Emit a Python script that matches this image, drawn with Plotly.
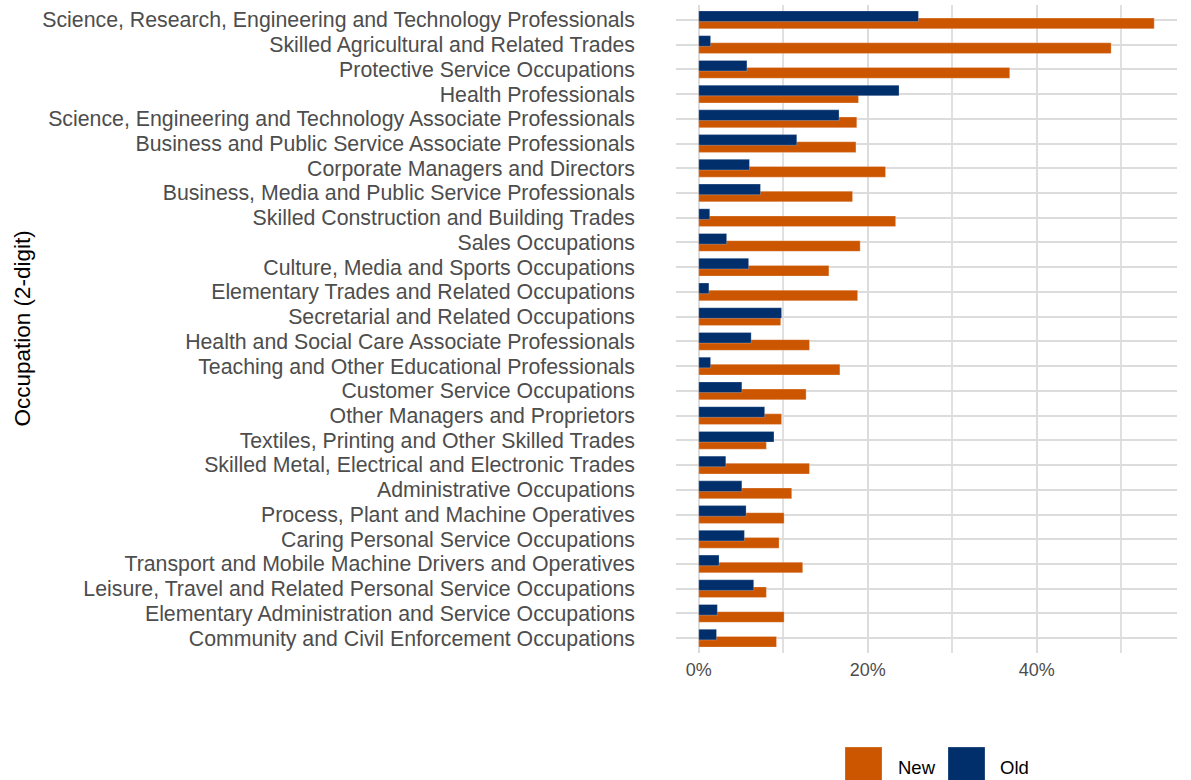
import plotly.graph_objects as go

categories = [
    "Science, Research, Engineering and Technology Professionals",
    "Skilled Agricultural and Related Trades",
    "Protective Service Occupations",
    "Health Professionals",
    "Science, Engineering and Technology Associate Professionals",
    "Business and Public Service Associate Professionals",
    "Corporate Managers and Directors",
    "Business, Media and Public Service Professionals",
    "Skilled Construction and Building Trades",
    "Sales Occupations",
    "Culture, Media and Sports Occupations",
    "Elementary Trades and Related Occupations",
    "Secretarial and Related Occupations",
    "Health and Social Care Associate Professionals",
    "Teaching and Other Educational Professionals",
    "Customer Service Occupations",
    "Other Managers and Proprietors",
    "Textiles, Printing and Other Skilled Trades",
    "Skilled Metal, Electrical and Electronic Trades",
    "Administrative Occupations",
    "Process, Plant and Machine Operatives",
    "Caring Personal Service Occupations",
    "Transport and Mobile Machine Drivers and Operatives",
    "Leisure, Travel and Related Personal Service Occupations",
    "Elementary Administration and Service Occupations",
    "Community and Civil Enforcement Occupations",
]

new_share = [0.539, 0.488, 0.368, 0.189, 0.187, 0.186, 0.221, 0.182, 0.233,
             0.191, 0.154, 0.188, 0.097, 0.131, 0.167, 0.127, 0.098, 0.080,
             0.131, 0.110, 0.101, 0.095, 0.123, 0.080, 0.101, 0.092]
old_share = [0.260, 0.014, 0.057, 0.237, 0.166, 0.116, 0.060, 0.073, 0.013,
             0.033, 0.059, 0.012, 0.098, 0.062, 0.014, 0.051, 0.078, 0.089,
             0.032, 0.051, 0.056, 0.054, 0.024, 0.065, 0.022, 0.021]

x_tick_values = [0, 0.2, 0.4]
x_minor_values = [0.1, 0.3, 0.5]

series_names = ["New", "Old"]
colors = {"New": "#CC5500", "Old": "#002F6C"}

W, H = 1191, 780
L, R, T, B = 676, 1177, 5, 653

fig = go.Figure()
fig.add_trace(go.Bar(
    y=categories, x=new_share, orientation="h", name="New",
    marker=dict(color=colors["New"], line=dict(color="rgba(255,255,255,0.5)", width=0.5)),
    width=0.43, offset=-0.36, showlegend=False,
))
fig.add_trace(go.Bar(
    y=categories, x=old_share, orientation="h", name="Old",
    marker=dict(color=colors["Old"], line=dict(color="rgba(255,255,255,0.5)", width=0.5)),
    width=0.43, offset=-0.07, showlegend=False,
))

xmax = max(new_share)
pad = 0.05 * xmax

fig.update_layout(
    width=W, height=H,
    barmode="overlay",
    plot_bgcolor="white", paper_bgcolor="white",
    margin=dict(l=L, r=W - R, t=T, b=H - B),
    font=dict(family="Liberation Sans, Arial, sans-serif", color="#4D4D4D"),
    xaxis=dict(
        range=[-pad, xmax + pad],
        tickmode="array", tickvals=x_tick_values, tickformat=".0%",
        tickfont=dict(size=18, color="#4D4D4D"),
        showgrid=True, gridcolor="#DCDCDC", gridwidth=1.8,
        minor=dict(tickvals=x_minor_values, showgrid=True, gridcolor="#E0E0E0", gridwidth=1.5),
        zeroline=False, showline=False, ticks="", ticklabelstandoff=4,
    ),
    yaxis=dict(
        type="category",
        categoryorder="array", categoryarray=categories[::-1],
        tickmode="array", tickvals=categories, ticktext=categories,
        range=[-0.6, len(categories) - 0.4],
        tickfont=dict(size=21.3, color="#4D4D4D"),
        showgrid=True, gridcolor="#DCDCDC", gridwidth=1.8,
        zeroline=False, showline=False, ticks="", ticklabelstandoff=40,
    ),
)

# axis title
fig.add_annotation(
    text="Occupation (2-digit)", textangle=-90,
    xref="paper", yref="paper",
    x=(22 - L) / (R - L), y=(B - 328.5) / (B - T),
    showarrow=False, font=dict(size=22.5, color="black"),
    xanchor="center", yanchor="middle",
)

# legend (custom large keys)
key_y0 = (B - 784) / (B - T)
key_y1 = (B - 747) / (B - T)
for name, x0px, tx in [("New", 845, 896), ("Old", 948, 998)]:
    fig.add_shape(
        type="rect", xref="paper", yref="paper",
        x0=(x0px - L) / (R - L), x1=(x0px + 37 - L) / (R - L),
        y0=key_y0, y1=key_y1,
        fillcolor=colors[name], line=dict(color="rgba(255,255,255,0.5)", width=0.5),
    )
    fig.add_annotation(
        text=name, xref="paper", yref="paper",
        x=(tx - L) / (R - L), y=(B - 767) / (B - T),
        showarrow=False, xanchor="left", yanchor="middle",
        font=dict(size=18.5, color="black"),
    )

fig.write_html("out.html", config={"displayModeBar": False},
               post_script="document.body.style.margin='0';")
